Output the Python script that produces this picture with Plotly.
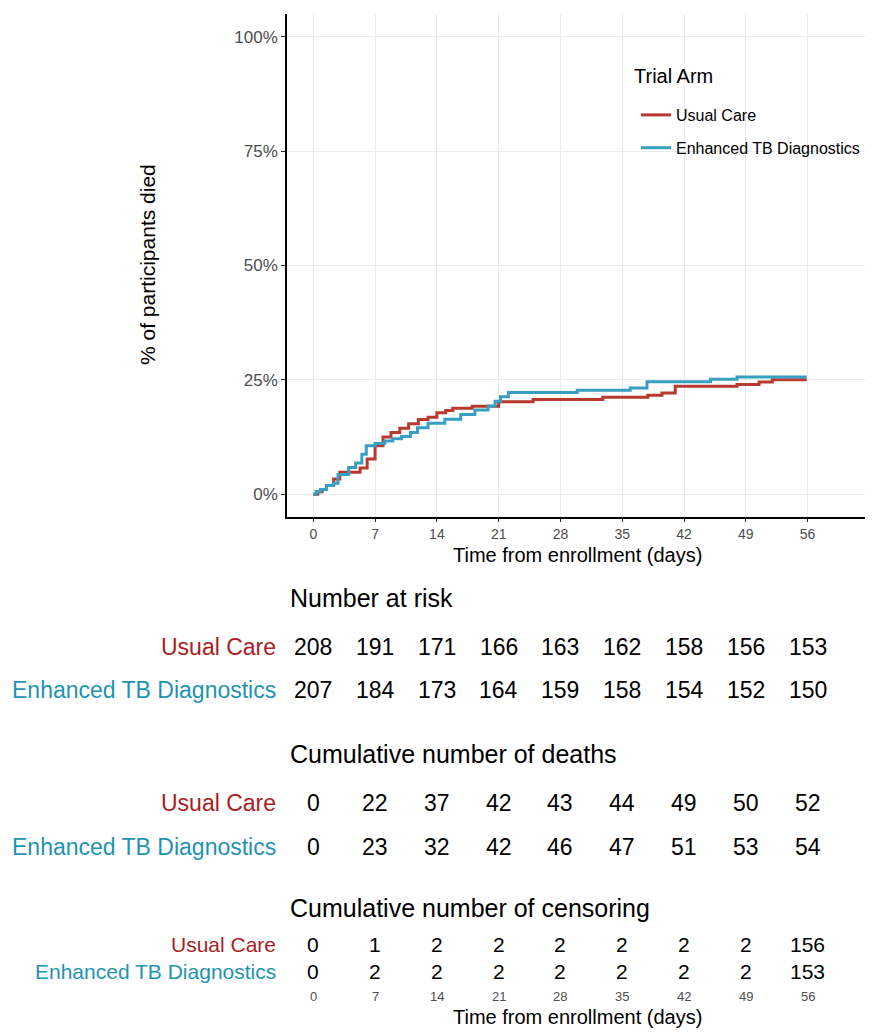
import plotly.graph_objects as go

# ---------------- data ----------------
arms = ["Usual Care", "Enhanced TB Diagnostics"]
legend_title = "Trial Arm"

uc_days = [0, 0.5, 1.0, 1.5, 2.3, 3.0, 5.3, 6.1, 7.0, 7.9, 8.8, 9.8, 10.8, 11.9, 13.0,
           14.0, 15.0, 15.8, 18.0, 21.0, 24.9, 32.8, 37.9, 39.5, 41.0, 48.0, 50.5, 52.0, 55.9]
uc_pct = [0, 0.5, 1.0, 1.9, 3.3, 4.8, 5.7, 7.7, 10.6, 12.5, 13.5, 14.4, 15.4, 16.3, 16.8,
          17.8, 18.3, 18.8, 19.2, 20.2, 20.7, 21.2, 21.6, 22.1, 23.6, 24.0, 24.5, 25.0, 25.0]

etb_days = [0, 0.3, 0.8, 1.5, 2.3, 2.8, 4.0, 4.8, 5.5, 6.0, 7.0, 8.1, 9.0, 10.0, 11.0,
            11.8, 13.0, 14.9, 16.7, 18.3, 19.8, 20.6, 21.2, 22.1, 29.9, 35.9, 37.8, 45.0,
            48.0, 55.9]
etb_pct = [0, 0.5, 1.0, 1.9, 2.4, 4.3, 5.8, 6.8, 8.7, 10.6, 11.1, 11.6, 12.1, 12.6, 13.5,
           14.5, 15.5, 16.4, 17.4, 18.4, 19.3, 20.3, 21.3, 22.2, 22.7, 23.2, 24.6, 25.1,
           25.6, 25.6]

table_days = [0, 7, 14, 21, 28, 35, 42, 49, 56]
risk_uc = [208, 191, 171, 166, 163, 162, 158, 156, 153]
risk_etb = [207, 184, 173, 164, 159, 158, 154, 152, 150]
deaths_uc = [0, 22, 37, 42, 43, 44, 49, 50, 52]
deaths_etb = [0, 23, 32, 42, 46, 47, 51, 53, 54]
cens_uc = [0, 1, 2, 2, 2, 2, 2, 2, 156]
cens_etb = [0, 2, 2, 2, 2, 2, 2, 2, 153]

y_ticks = [0, 25, 50, 75, 100]
y_tick_labels = ["0%", "25%", "50%", "75%", "100%"]

# ---------------- style ----------------
OFF = 8                      # default page body margin
W, H = 873 - 2 * OFF, 1034 - OFF
FONT = "Liberation Sans, Arial, Helvetica, sans-serif"
line_cols = ["#B83A2E", "#37A0C2"]
text_cols = ["#A81E22", "#1F93B2"]


def px(p):  # window pixel from left -> paper x
    return (p - OFF) / W


def py(p):  # window pixel from top -> paper y
    return 1 - (p - OFF) / H


fig = go.Figure()
for name, xs, ys, col, grp in [(arms[0], uc_days, uc_pct, line_cols[0], "a"),
                               (arms[1], etb_days, etb_pct, line_cols[1], "b")]:
    fig.add_trace(go.Scatter(x=xs, y=ys, mode="lines", name=name, legendgroup=grp,
                             line=dict(color=col, width=3, shape="hv")))

fig.update_layout(
    width=W, height=H,
    margin=dict(l=0, r=0, t=0, b=0),
    paper_bgcolor="white", plot_bgcolor="white",
    font=dict(family=FONT, color="black"),
    legend=dict(
        x=px(636), y=py(98), xanchor="left", yanchor="top",
        font=dict(size=16, color="black"),
        bgcolor="rgba(0,0,0,0)", tracegroupgap=9, itemwidth=30,
    ),
    xaxis=dict(
        domain=[px(287), px(865)], range=[-2.98, 62.5],
        tickvals=table_days, ticktext=[str(d) for d in table_days],
        tickfont=dict(size=14, color="#4D4D4D"),
        ticks="outside", ticklen=3, tickcolor="#333333",
        showline=True, linecolor="black", linewidth=1.5,
        showgrid=True, gridcolor="#EBEBEB", gridwidth=1.3,
        zeroline=False, automargin=False, anchor="y",
    ),
    yaxis=dict(
        domain=[py(517), py(14)], range=[-5, 105],
        tickvals=y_ticks, ticktext=y_tick_labels,
        tickfont=dict(size=17, color="#4D4D4D"),
        ticks="outside", ticklen=4, tickcolor="#333333",
        showline=True, linecolor="black", linewidth=1.5,
        showgrid=True, gridcolor="#EBEBEB", gridwidth=1.3,
        zeroline=False, automargin=False, anchor="x",
    ),
)

ann = []
# legend title
ann.append(dict(text=legend_title, xref="paper", yref="paper", x=px(632), y=py(76),
                xanchor="left", yanchor="middle", showarrow=False,
                font=dict(size=20, color="black")))
# axis titles
ann.append(dict(text="% of participants died", xref="paper", yref="paper",
                x=px(147), y=py(265), textangle=-90, showarrow=False,
                font=dict(size=21, color="black"), xanchor="center", yanchor="middle"))
ann.append(dict(text="Time from enrollment (days)", xref="paper", yref="paper",
                x=px(577), y=py(555), showarrow=False,
                font=dict(size=20, color="black"), xanchor="center", yanchor="middle"))


def add_table(title, title_y, rows, row_ys, size):
    ann.append(dict(text=title, xref="paper", yref="paper", x=px(288), y=py(title_y),
                    xanchor="left", yanchor="middle", showarrow=False,
                    font=dict(size=25, color="black")))
    for (vals, col, label), ry in zip(rows, row_ys):
        ann.append(dict(text=label, xref="paper", yref="paper", x=px(278), y=py(ry),
                        xanchor="right", yanchor="middle", showarrow=False,
                        font=dict(size=size, color=col)))
        for d, v in zip(table_days, vals):
            ann.append(dict(text=str(v), xref="x", yref="paper", x=d, y=py(ry),
                            xanchor="center", yanchor="middle", showarrow=False,
                            font=dict(size=size, color="black")))


add_table("Number at risk", 598,
          [(risk_uc, text_cols[0], arms[0]), (risk_etb, text_cols[1], arms[1])],
          [647, 690], 23)
add_table("Cumulative number of deaths", 754,
          [(deaths_uc, text_cols[0], arms[0]), (deaths_etb, text_cols[1], arms[1])],
          [803, 847], 23)
add_table("Cumulative number of censoring", 908,
          [(cens_uc, text_cols[0], arms[0]), (cens_etb, text_cols[1], arms[1])],
          [944, 971], 21)

# bottom time axis labels for the tables
for d in table_days:
    ann.append(dict(text=str(d), xref="x", yref="paper", x=d, y=py(996),
                    xanchor="center", yanchor="middle", showarrow=False,
                    font=dict(size=13, color="#4D4D4D")))
ann.append(dict(text="Time from enrollment (days)", xref="paper", yref="paper",
                x=px(577), y=py(1017), showarrow=False,
                font=dict(size=20, color="black"), xanchor="center", yanchor="middle"))

fig.update_layout(annotations=ann)
fig.write_html("out.html")
